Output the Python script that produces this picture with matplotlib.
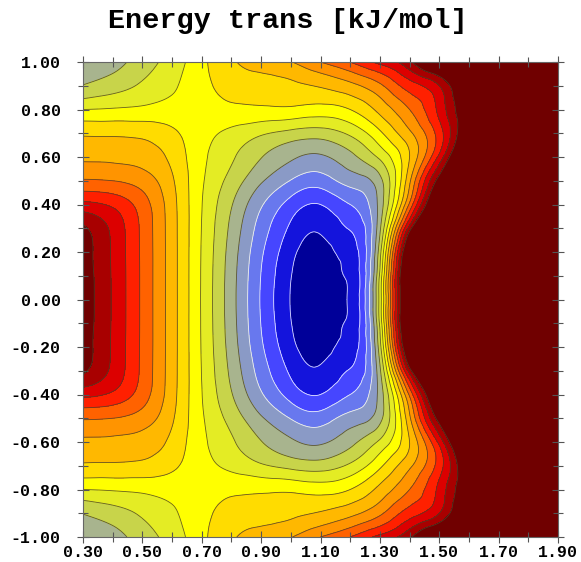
import numpy as np
import matplotlib
matplotlib.use("Agg")
import matplotlib.pyplot as plt
import matplotlib.tri as mtri

# grid (kJ/mol); surface is mirror-symmetric in y
x_vals = [0.3, 0.4, 0.5, 0.6, 0.7, 0.8, 0.9, 1.0, 1.1, 1.2, 1.3, 1.4, 1.5, 1.6, 1.7, 1.8, 1.9]
y_half = [0.0, 0.1, 0.2, 0.3, 0.4, 0.5, 0.6, 0.7, 0.8, 0.9, 1.0]
energy_half = [
    [8.6, 6.9, 4.8, 2.45, -0.1, -2.6, -5.1, -7.05, -7.8, -6.85, -0.6, 11, 11, 11, 11, 11, 11],
    [8.58, 6.89, 4.8, 2.45, -0.09, -2.56, -5.03, -6.96, -7.7, -6.76, -0.8, 11, 11, 11, 11, 11, 11],
    [8.5, 6.86, 4.79, 2.45, -0.07, -2.45, -4.83, -6.69, -7.4, -6.48, -1.4, 10, 11, 11, 11, 11, 11],
    [8.2, 6.76, 4.77, 2.44, -0.03, -2.25, -4.46, -6.19, -6.85, -5.92, -2.2, 7.5, 11, 11, 11, 11, 11],
    [6.3, 5.8, 4.49, 2.39, 0.03, -1.93, -3.88, -5.41, -6.0, -5.0, -2.6, 4.2, 10, 11, 11, 11, 11],
    [4.11, 4.0, 3.53, 2.14, 0.14, -1.37, -2.87, -4.05, -4.5, -3.6, -2.3, 2.8, 8.5, 11, 11, 11, 11],
    [2.83, 2.79, 2.59, 1.73, 0.24, -0.86, -1.96, -2.82, -3.15, -2.3, -0.8, 2.0, 6.3, 10.5, 11, 11, 11],
    [1.84, 1.82, 1.72, 1.21, 0.36, -0.25, -0.85, -1.32, -1.5, -0.8, 0.8, 2.8, 5.5, 9.5, 11, 11, 11],
    [0.0, 0.1, 0.23, 0.38, 0.54, 0.75, 0.8, 0.8, 0.6, 1.0, 2.3, 4.0, 6.3, 9.3, 11, 11, 11],
    [-1.95, -1.45, -0.85, -0.15, 0.68, 1.4, 1.6, 1.8, 2.1, 2.7, 3.8, 5.5, 7.0, 9.8, 11, 11, 11],
    [-2.8, -2.4, -1.5, -0.55, 0.74, 1.85, 2.45, 2.95, 4.0, 5.0, 6.3, 7.8, 10.5, 11, 11, 11, 11],
]

levels = [-7, -6, -5, -4, -3, -2, -1, 0, 1, 2, 3, 4, 5, 6, 7, 8]
band_colors = ["#000099", "#1414dc", "#4646ff", "#6878ee", "#8a9ac6", "#a8b48e",
               "#c8d44a", "#e4ec24", "#ffff00", "#ffdc00", "#ffb800", "#ff9400",
               "#ff6200", "#ff2000", "#dc0000", "#a80000", "#700000"]
line_colors = ["white"] * 4 + ["#4a4228"] * 12

x_ticks = [0.3, 0.5, 0.7, 0.9, 1.1, 1.3, 1.5, 1.7, 1.9]
y_ticks = [-1.0, -0.8, -0.6, -0.4, -0.2, 0.0, 0.2, 0.4, 0.6, 0.8, 1.0]

# mirror the half grid to the full y range
half = np.array(energy_half)
y_full = np.concatenate([-np.array(y_half[::-1]), np.array(y_half[1:])])
z_full = np.vstack([half[::-1], half[1:]])
nx, ny = len(x_vals), len(y_full)

# triangles split the same way on both sides of y = 0
triangles = []
for j in range(ny - 1):
    for i in range(nx - 1):
        a, b = j * nx + i, j * nx + i + 1
        c, d = (j + 1) * nx + i, (j + 1) * nx + i + 1
        if y_full[j] >= 0:
            triangles += [[a, b, d], [a, d, c]]
        else:
            triangles += [[a, b, c], [b, d, c]]

X, Y = np.meshgrid(x_vals, y_full)
tri = mtri.Triangulation(X.ravel(), Y.ravel(), triangles)
interp = mtri.CubicTriInterpolator(tri, z_full.ravel(), kind="min_E")
refiner = mtri.UniformTriRefiner(tri)
tri_f, z_f = refiner.refine_field(z_full.ravel(), triinterpolator=interp, subdiv=4)

mono = ["Liberation Mono", "DejaVu Sans Mono"]

fig = plt.figure(figsize=(5.81, 5.62), dpi=100)
ax = fig.add_axes([83 / 581, 25 / 562, 475 / 581, 475 / 562])

bounds = [-100] + levels + [100]
ax.tricontourf(tri_f, z_f, levels=bounds, colors=band_colors)
ax.tricontour(tri_f, z_f, levels=levels, colors=line_colors, linewidths=0.6, alpha=0.85)

ax.set_xlim(0.3, 1.9)
ax.set_ylim(-1.0, 1.0)
ax.set_xticks(x_ticks)
ax.set_yticks(y_ticks)
ax.set_xticks(np.arange(0.4, 1.9, 0.2), minor=True)
ax.set_yticks(np.arange(-0.9, 1.0, 0.2), minor=True)
ax.set_xticklabels([f"{v:.2f}" for v in x_ticks])
ax.set_yticklabels([f"{v:.2f}" for v in y_ticks])
ax.tick_params(which="both", direction="inout", top=True, right=True, color="#555555", width=0.8)
ax.tick_params(which="major", length=8)
ax.tick_params(which="minor", length=7)
ax.tick_params(axis="x", pad=2)
ax.tick_params(axis="y", pad=12)
for lab in ax.get_xticklabels() + ax.get_yticklabels():
    lab.set_family(mono)
    lab.set_fontweight("bold")
    lab.set_fontsize(12)
for sp in ax.spines.values():
    sp.set_color("#666666")
    sp.set_linewidth(0.8)

fig.text(0.495, 0.962, "Energy trans [kJ/mol]", ha="center", va="center",
         family=mono, fontweight="bold", fontsize=20.5)

fig.savefig("out.png", dpi=100)
